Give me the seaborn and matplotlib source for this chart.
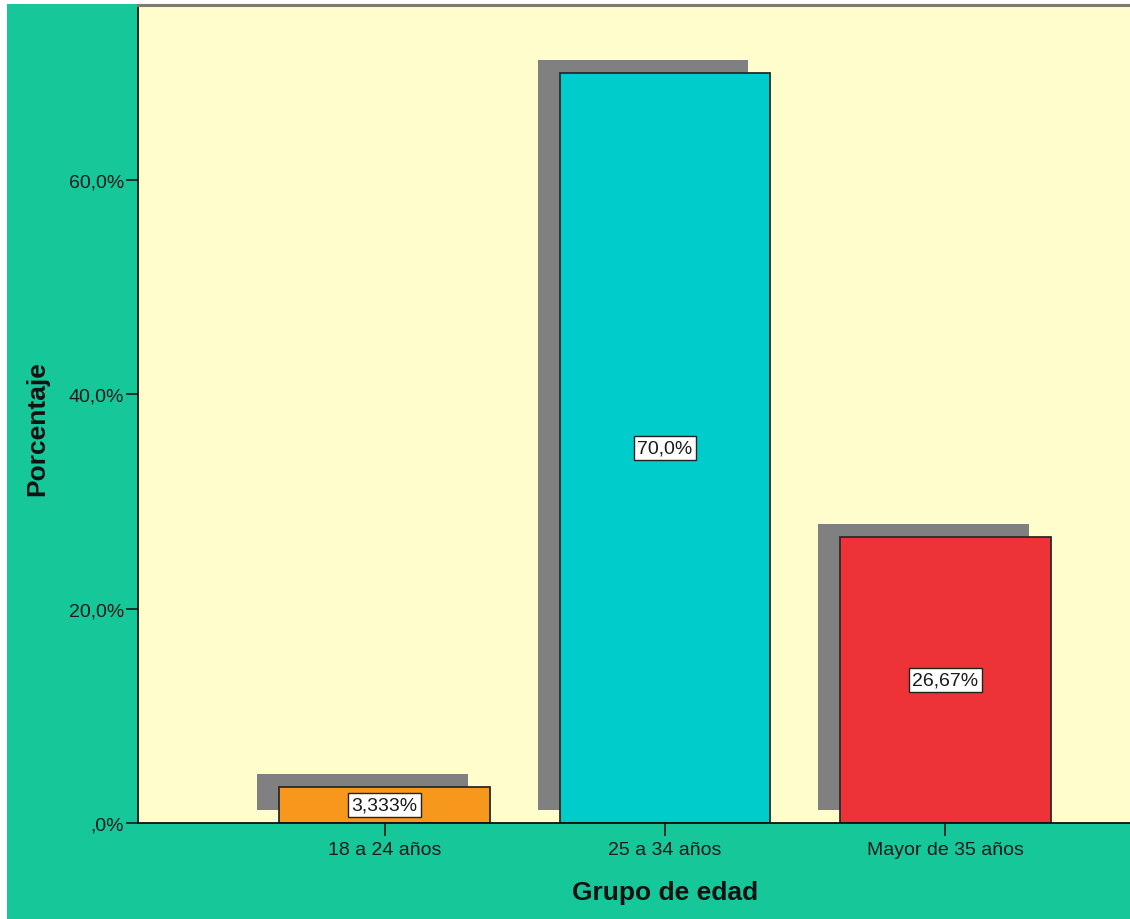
import matplotlib
matplotlib.use("Agg")
import matplotlib.pyplot as plt
import matplotlib.transforms as mtransforms
from matplotlib.patches import Rectangle
import seaborn as sns
import pandas as pd

# Age-group distribution (percent of respondents)
categories = ["18 a 24 años", "25 a 34 años", "Mayor de 35 años"]
values = [3.333, 70.0, 26.67]
value_labels = ["3,333%", "70,0%", "26,67%"]
bar_colors = ["#F7981D", "#00CCCC", "#EE3338"]
y_ticks = [0, 20, 40, 60]
y_tick_labels = [",0%", "20,0%", "40,0%", "60,0%"]

df = pd.DataFrame({"grupo": categories, "pct": values})

sns.set_theme(style="white")
plt.rcParams["font.family"] = ["Liberation Sans", "DejaVu Sans"]

W, H = 1130, 920
fig = plt.figure(figsize=(W / 100, H / 100), dpi=100)
fig.patch.set_facecolor("white")
fig.add_artist(Rectangle((7 / W, 0), 1, (H - 5) / H, transform=fig.transFigure,
                         facecolor="#16C79A", edgecolor="none", zorder=0))

ax = fig.add_axes([138 / W, 96 / H, 1054 / W, 818 / H])
ax.set_facecolor("#FFFDCC")

# drop shadows: same bars, shifted up and to the left
sns.barplot(data=df, x="grupo", y="pct", color="#808080", width=0.752,
            errorbar=None, ax=ax, saturation=1, linewidth=0)
shift = mtransforms.ScaledTranslation(-22 / 100, 13 / 100, fig.dpi_scale_trans)
for p in list(ax.patches):
    p.set_transform(ax.transData + shift)

sns.barplot(data=df, x="grupo", y="pct", hue="grupo", palette=bar_colors,
            width=0.752, errorbar=None, ax=ax, saturation=1, legend=False,
            edgecolor="#2a2a2a", linewidth=1.3)

for i, (v, lab) in enumerate(zip(values, value_labels)):
    ax.text(i, v / 2, lab, ha="center", va="center", fontsize=14, color="#1a1a1a",
            bbox=dict(boxstyle="square,pad=0.18", facecolor="white",
                      edgecolor="#222222", linewidth=1.0), zorder=5)

ax.set_xlim(-0.879, 2.879)
ax.set_ylim(0, 76.3)
ax.set_yticks(y_ticks)
ax.set_yticklabels(y_tick_labels)

ax.tick_params(axis="y", length=9, width=1.2, pad=1, labelsize=14,
               colors="#1a1a1a", left=True, direction="out")
ax.tick_params(axis="x", length=9, width=1.2, pad=4, labelsize=14,
               colors="#1a1a1a", bottom=True, direction="out")

for side in ["left", "bottom"]:
    ax.spines[side].set_color("#111111")
    ax.spines[side].set_linewidth(1.3)
ax.spines["top"].set_color("#7d7d6e")
ax.spines["top"].set_linewidth(2.2)
ax.spines["right"].set_visible(False)

ax.set_xlabel("Grupo de edad", fontsize=19, fontweight="bold", color="#111111")
ax.set_ylabel("Porcentaje", fontsize=19, fontweight="bold", color="#111111")
ax.xaxis.set_label_coords(0.5, (824 - 893) / 818)
ax.xaxis.label.set_va("center")
ax.yaxis.set_label_coords((37 - 138) / 1054, (824 - 429) / 818)
ax.yaxis.label.set_va("center")

fig.savefig("out.png", dpi=100, facecolor=fig.get_facecolor())
